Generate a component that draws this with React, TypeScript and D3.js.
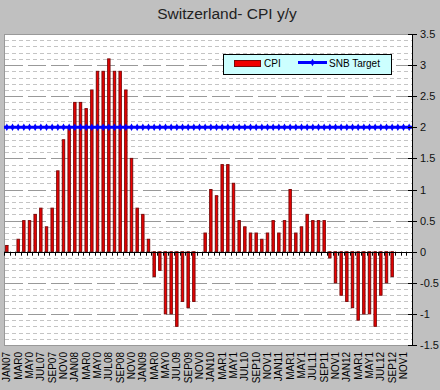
import * as React from "react";
import * as d3 from "d3";

// months Jan 2007 .. Dec 2012
const monthNames = ["JAN", "FEB", "MAR", "APR", "MAY", "JUN", "JUL", "AUG", "SEP", "OCT", "NOV", "DEC"];
const years = ["07", "08", "09", "10", "11", "12"];
const categories = years.flatMap((y) => monthNames.map((m) => m + y));

// Swiss CPI, % y/y (null = no data yet)
const cpi = [
  0.1, 0, 0.2, 0.5, 0.5, 0.6, 0.7, 0.4, 0.7, 1.3, 1.8, 2.0,
  2.4, 2.4, 2.3, 2.6, 2.9, 2.9, 3.1, 2.9, 2.9, 2.6, 1.5, 0.7,
  0.6, 0.2, -0.4, -0.3, -1.0, -1.0, -1.2, -0.8, -0.9, -0.8, 0, 0.3,
  1.0, 0.9, 1.4, 1.4, 1.1, 0.5, 0.4, 0.3, 0.3, 0.2, 0.3, 0.5,
  0.3, 0.5, 1.0, 0.3, 0.4, 0.6, 0.5, 0.5, 0.5, -0.1, -0.5, -0.7,
  -0.8, -0.9, -1.1, -1.0, -1.0, -1.2, -0.7, -0.5, -0.4, null, null, null,
];

const snbTarget = 2;

// labels every second month, as they are printed (clipped)
const xLabels = [
  "JAN07", "MAR0", "MAY0", "JUL07", "SEP07", "NOV0",
  "JAN08", "MAR0", "MAY0", "JUL08", "SEP08", "NOV0",
  "JAN09", "MAR0", "MAY0", "JUL09", "SEP09", "NOV0",
  "JAN10", "MAR1", "MAY1", "JUL10", "SEP10", "NOV1",
  "JAN11", "MAR1", "MAY1", "JUL11", "SEP11", "NOV1",
  "JAN12", "MAR1", "MAY1", "JUL12", "SEP12", "NOV1",
];

const yTicks = [3.5, 3, 2.5, 2, 1.5, 1, 0.5, 0, -0.5, -1, -1.5];

export default function App() {
  const width = 440;
  const height = 390;
  const left = 4;
  const right = 412;
  const top = 34;
  const bottom = 345;
  const font = "'Liberation Sans', Arial, sans-serif";

  const x = d3
    .scaleBand<string>()
    .domain(categories)
    .range([left, right])
    .paddingInner(0.4)
    .paddingOuter(0.2);
  const step = x.step();
  const bw = x.bandwidth();
  const cx = (c: string) => (x(c) as number) + bw / 2;

  const y = d3.scaleLinear().domain([-1.5, 3.5]).range([bottom, top]);

  const minor = d3.range(-15, 36).filter((v) => v % 5 !== 0).map((v) => v / 10);
  const diamond = d3.symbol(d3.symbolDiamond, 16)() as string;

  return (
    <svg width={width} height={height} style={{ position: "absolute", left: 0, top: 0 }}>
      <rect width={width} height={height} fill="#c0c0c0" />
      <text x={227} y={19} textAnchor="middle" fontFamily={font} fontSize={15.5} fill="#222">
        Switzerland- CPI y/y
      </text>

      {/* plot area */}
      <rect x={left + 0.5} y={top + 0.5} width={right - left} height={bottom - top} fill="#fff" stroke="#999" />

      {minor.map((v) => (
        <line key={"m" + v} x1={left + 1} x2={right} y1={Math.round(y(v)) + 0.5} y2={Math.round(y(v)) + 0.5}
          stroke="#c4c4c4" strokeDasharray="4,3" />
      ))}
      {yTicks.filter((v) => v !== 0 && v !== 3.5 && v !== -1.5).map((v) => (
        <line key={"M" + v} x1={left + 1} x2={right} y1={Math.round(y(v)) + 0.5} y2={Math.round(y(v)) + 0.5}
          stroke="#999" strokeDasharray="18,5" />
      ))}

      {/* CPI bars */}
      {cpi.map((v, i) =>
        v === null || v === 0 ? null : (
          <rect
            key={"b" + i}
            x={(x(categories[i]) as number) + 0.5}
            y={Math.min(y(v), y(0))}
            width={bw - 1}
            height={Math.abs(y(v) - y(0))}
            fill="#f00000"
            stroke="#7a0a0a"
          />
        )
      )}

      {/* zero line with month ticks */}
      <line x1={left} x2={right} y1={Math.round(y(0)) + 0.5} y2={Math.round(y(0)) + 0.5} stroke="#000" />
      {d3.range(categories.length + 1).map((i) => {
        const tx = Math.round(left + i * step) + 0.5;
        return <line key={"t" + i} x1={tx} x2={tx} y1={y(0)} y2={y(0) + 4} stroke="#000" />;
      })}

      {/* SNB target */}
      <line x1={left} x2={right} y1={y(snbTarget)} y2={y(snbTarget)} stroke="#0000ff" strokeWidth={3} />
      {categories.map((c) => (
        <path key={"d" + c} d={diamond} transform={`translate(${cx(c)},${y(snbTarget)})`} fill="#0000ff" />
      ))}

      {/* legend */}
      <g>
        <rect x={223.5} y={54.5} width={168} height={20} fill="#ccffff" stroke="#000" />
        <rect x={234.5} y={60.5} width={26} height={6} fill="#f00000" stroke="#7a0a0a" />
        <text x={264} y={67} fontFamily={font} fontSize={10} fill="#000">CPI</text>
        <line x1={298} x2={327} y1={62.5} y2={62.5} stroke="#0000ff" strokeWidth={3} />
        <path d={diamond} transform="translate(312.5,62.5)" fill="#0000ff" />
        <text x={329} y={67} fontFamily={font} fontSize={10} fill="#000">SNB Target</text>
      </g>

      {/* right axis */}
      <line x1={right + 0.5} x2={right + 0.5} y1={top} y2={bottom + 1} stroke="#000" />
      {yTicks.map((v) => (
        <g key={"y" + v} transform={`translate(0,${Math.round(y(v)) + 0.5})`}>
          <line x1={right - 4} x2={right + 5} stroke="#000" />
          <text x={420} dy="0.35em" fontFamily={font} fontSize={11} fill="#111">
            {v}
          </text>
        </g>
      ))}

      {/* x labels */}
      {xLabels.map((lab, i) => (
        <text
          key={"x" + i}
          transform={`translate(${cx(categories[i * 2])},352)rotate(-90)`}
          textAnchor="end"
          dy="0.35em"
          fontFamily={font}
          fontSize={10}
          fill="#000"
        >
          {lab}
        </text>
      ))}
    </svg>
  );
}
